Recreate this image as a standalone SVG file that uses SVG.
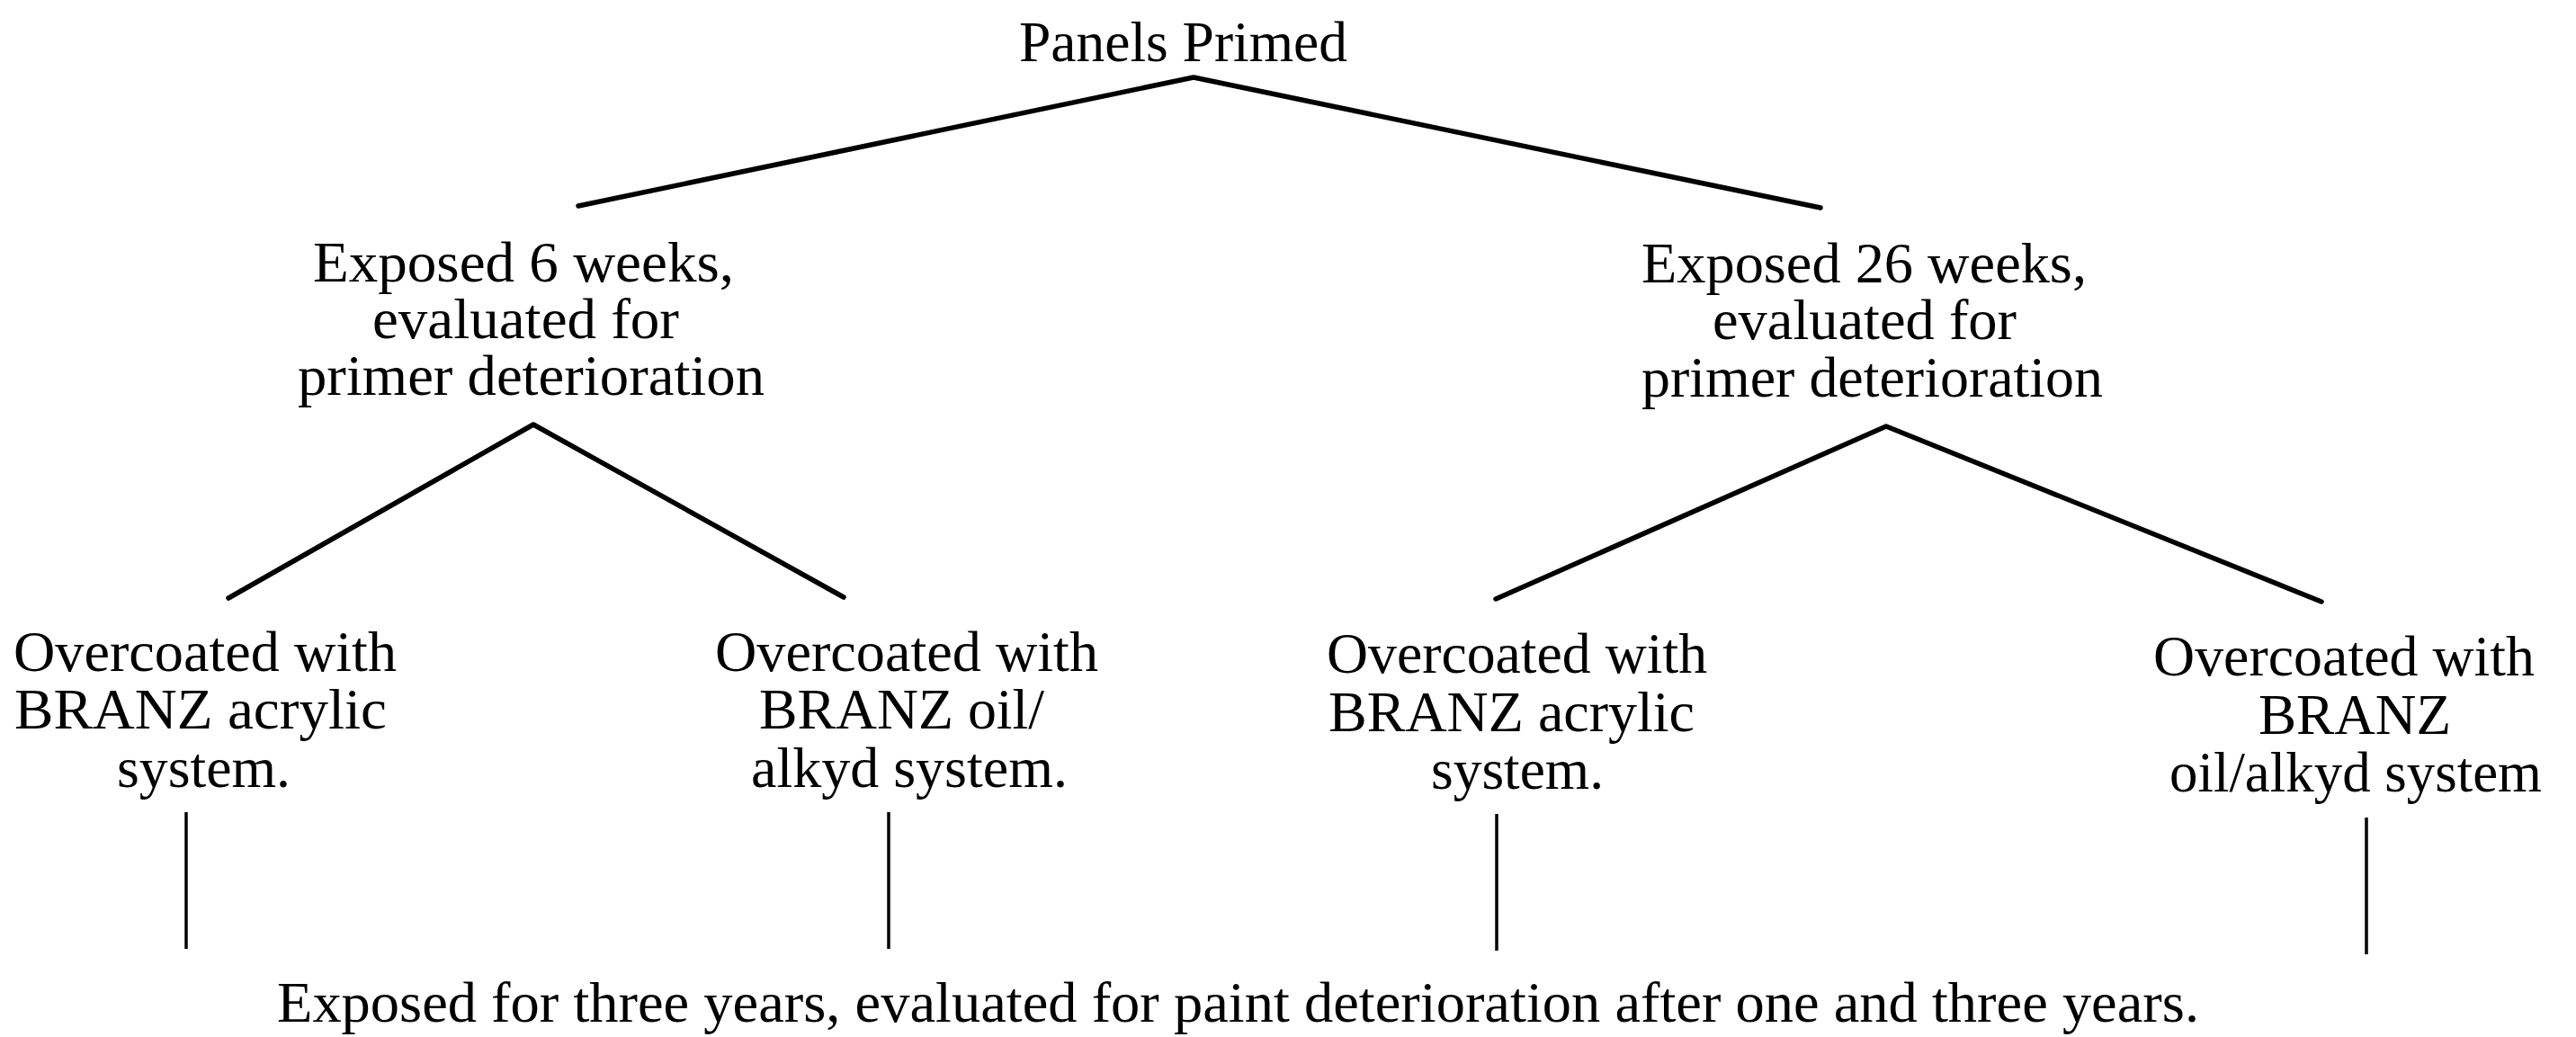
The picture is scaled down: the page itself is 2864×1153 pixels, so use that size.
<svg xmlns="http://www.w3.org/2000/svg" width="2864" height="1153" viewBox="0 0 2864 1153">
  <style>
    .lbl { font-family: "Liberation Serif", "Times New Roman", serif; font-size: 64px; fill: #000; text-anchor: middle; }
    .branch { fill: none; stroke: #000; stroke-width: 5.5; stroke-linejoin: round; stroke-linecap: round; }
    .stem { fill: none; stroke: #000; stroke-width: 3.5; stroke-linecap: butt; }
  </style>
  <rect x="0" y="0" width="2864" height="1153" fill="#fff"/>

  <!-- connectors: branching chevrons and vertical drops -->
  <g id="connectors">
    <polyline class="branch" points="643,229 1327,86 2024,231"/>
    <polyline class="branch" points="254,665 593,472 938,664"/>
    <polyline class="branch" points="1663,666 2097,474 2581,669"/>
    <line class="stem" x1="207" y1="903" x2="207" y2="1055"/>
    <line class="stem" x1="988" y1="903" x2="988" y2="1055"/>
    <line class="stem" x1="1664" y1="905" x2="1664" y2="1057"/>
    <line class="stem" x1="2631" y1="909" x2="2631" y2="1061"/>
  </g>

  <g id="node-primed">
    <text class="lbl" x="1315.5" y="68" textLength="365" lengthAdjust="spacingAndGlyphs">Panels Primed</text>
  </g>

  <g id="node-exposed-6">
    <text class="lbl" x="582" y="313" textLength="468" lengthAdjust="spacingAndGlyphs">Exposed 6 weeks,</text>
    <text class="lbl" x="584.5" y="376" textLength="341" lengthAdjust="spacingAndGlyphs">evaluated for</text>
    <text class="lbl" x="590.5" y="439" textLength="519" lengthAdjust="spacingAndGlyphs">primer deterioration</text>
  </g>

  <g id="node-exposed-26">
    <text class="lbl" x="2072.5" y="314" textLength="495" lengthAdjust="spacingAndGlyphs">Exposed 26 weeks,</text>
    <text class="lbl" x="2073" y="377" textLength="338" lengthAdjust="spacingAndGlyphs">evaluated for</text>
    <text class="lbl" x="2081.5" y="441" textLength="513" lengthAdjust="spacingAndGlyphs">primer deterioration</text>
  </g>

  <g id="node-6w-acrylic">
    <text class="lbl" x="228" y="746" textLength="426" lengthAdjust="spacingAndGlyphs">Overcoated with</text>
    <text class="lbl" x="223" y="810" textLength="414" lengthAdjust="spacingAndGlyphs">BRANZ acrylic</text>
    <text class="lbl" x="226.5" y="875" textLength="193" lengthAdjust="spacingAndGlyphs">system.</text>
  </g>

  <g id="node-6w-alkyd">
    <text class="lbl" x="1008" y="746" textLength="426" lengthAdjust="spacingAndGlyphs">Overcoated with</text>
    <text class="lbl" x="1002.5" y="810" textLength="317" lengthAdjust="spacingAndGlyphs">BRANZ oil/</text>
    <text class="lbl" x="1011" y="875" textLength="352" lengthAdjust="spacingAndGlyphs">alkyd system.</text>
  </g>

  <g id="node-26w-acrylic">
    <text class="lbl" x="1686.5" y="748" textLength="423" lengthAdjust="spacingAndGlyphs">Overcoated with</text>
    <text class="lbl" x="1680.5" y="813" textLength="407" lengthAdjust="spacingAndGlyphs">BRANZ acrylic</text>
    <text class="lbl" x="1687" y="877" textLength="192" lengthAdjust="spacingAndGlyphs">system.</text>
  </g>

  <g id="node-26w-alkyd">
    <text class="lbl" x="2606" y="751" textLength="424" lengthAdjust="spacingAndGlyphs">Overcoated with</text>
    <text class="lbl" x="2618" y="816" textLength="214" lengthAdjust="spacingAndGlyphs">BRANZ</text>
    <text class="lbl" x="2619" y="880" textLength="414" lengthAdjust="spacingAndGlyphs">oil/alkyd system</text>
  </g>

  <g id="node-three-years">
    <text class="lbl" x="1376.5" y="1136" textLength="2137" lengthAdjust="spacingAndGlyphs">Exposed for three years, evaluated for paint deterioration after one and three years.</text>
  </g>
</svg>
